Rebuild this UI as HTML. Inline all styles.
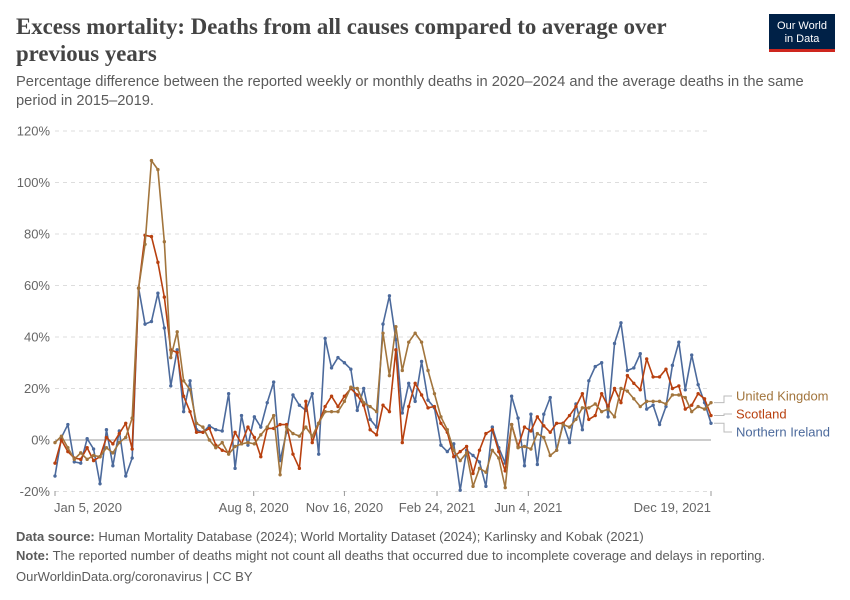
<!DOCTYPE html>
<html><head><meta charset="utf-8"><style>
body{margin:0;background:#fff;font-family:"Liberation Sans",sans-serif}
#wrap{position:relative;width:850px;height:600px;overflow:hidden}
.t{position:absolute;white-space:nowrap}
</style></head><body>
<div id="wrap">
<div class="t" style="left:16px;top:13px;font:bold 22.8px 'Liberation Serif',serif;color:#444;line-height:27px">Excess mortality: Deaths from all causes compared to average over<br>previous years</div>
<div class="t" style="left:16px;top:73px;font-size:14.7px;color:#5b5b5b;line-height:19px">Percentage difference between the reported weekly or monthly deaths in 2020–2024 and the average deaths in the same<br>period in 2015–2019.</div>
<div style="position:absolute;left:769px;top:14px;width:66px;height:38px;background:#002147;color:#fff;font-size:11px;text-align:center;line-height:13px;box-sizing:border-box;padding-top:6px;border-bottom:3px solid #ce261e">Our World<br>in Data</div>
<svg id="chart" width="850" height="600" style="position:absolute;left:0;top:0"></svg>
<div class="t" style="left:16px;top:529px;font-size:13px;color:#5b5b5b"><b>Data source:</b> Human Mortality Database (2024); World Mortality Dataset (2024); Karlinsky and Kobak (2021)</div>
<div class="t" style="left:16px;top:548px;font-size:13px;color:#5b5b5b"><b>Note:</b> The reported number of deaths might not count all deaths that occurred due to incomplete coverage and delays in reporting.</div>
<div class="t" style="left:16px;top:569px;font-size:13px;color:#5b5b5b">OurWorldinData.org/coronavirus | CC BY</div>
</div>
<script>
const yTicks=[-20,0,20,40,60,80,100,120];
const xTickLabels=["Jan 5, 2020","Aug 8, 2020","Nov 16, 2020","Feb 24, 2021","Jun 4, 2021","Dec 19, 2021"];
const xTickWeeks=[0,30.9,45,59.4,73.6,102];
const seriesNames=["United Kingdom","Scotland","Northern Ireland"];
const ukValues=[-1,1.5,-3,-7.5,-5,-7.5,-6,-6.5,-3,-5,-1,1,8.5,59,76,108.5,105,77,32,42,23,19.5,6.5,5,0,-3,-1,-5.5,-2.5,-1.5,-1,-1.5,2,5,9.5,-13.5,5,2.5,1.5,5,1.5,6.5,11,11,11,15,20.5,20,14.5,13,11,41.5,25,44,27,38,41.5,38,27,18,9,4,-4,-8,-5,-18,-11,-12.5,-4,-7,-18.5,6,-3,-2.5,-3.5,2.5,1,-6,-4,6,5,8,12.5,12.5,14,11,12,9,20,19,16,13,15,15,15,14,17.5,17.5,16.5,11,13,12,14.5];
const scotlandValues=[-9,0,-4.5,-7,-7.5,-3,-8,-6.5,1,-1.5,2.5,6.5,-3.5,59,79.5,79,69,55.5,35,34,17,11,3,3,4.5,-2,-4,-5,3,-1.5,5,1,-6.5,4.5,4.5,6,6,-5.5,-11,15,-1,6.5,13,17,13,17,20,17.5,13.5,4,2,13.5,11,35,-1,13,22,17.5,12.5,13,6.5,3,-6.5,-4.5,-2.5,-13,-4,2.5,4,-4.5,-12,6,-2.5,5,3.5,9,5.5,3,6.5,6.5,9.5,13,18,8,9.5,18,13,20,14.5,25,22,19.5,31.5,24.5,24.5,27.5,20,21,12,13.5,18,16,9.5];
const niValues=[-14,1,6,-8.5,-9,0.5,-3.5,-17,4,-10,3.5,-14,-7,59,45,46,57,43.5,21,35,11,23,4,3,5.5,4,3.5,18,-11,9.5,-2,9,5,14.5,22.5,-8,3,17.5,13.5,11.5,18,-5.5,39.5,28,32,30,27.5,11.5,20,8,5,45,56,39,10.5,22,15,30.5,15.5,12.5,-2,-4.5,-1.5,-19.5,-4,-6,-8.5,-18,5,-3,-9,17,8.5,-10,10,-9.5,10,16.5,-4,6.5,-1,14,4,23,28.5,30,9,37.5,45.5,27,28,33.5,12,13.5,6,13,29,38,19.5,33,21.5,14.5,6.5];
const colors=["#a2753d","#b8400f","#4c6a9c"];
const X0=55,X1=711,Y0=440,PPU=2.575;
const xs=i=>X0+(X1-X0)*i/102;
const ys=v=>Y0-v*PPU;
const svg=document.getElementById('chart');
const NS="http://www.w3.org/2000/svg";
function mk(tag,attrs){const e=document.createElementNS(NS,tag);for(const k in attrs)e.setAttribute(k,attrs[k]);svg.appendChild(e);return e;}
yTicks.forEach(v=>{
 const l=mk('line',{x1:X0,x2:X1,y1:ys(v),y2:ys(v),stroke:v===0?'#9a9a9a':'#ddd','stroke-dasharray':v===0?'':'4,4','stroke-width':1});
 
 
 const t=mk('text',{x:50,y:ys(v)+4.5,'text-anchor':'end','font-size':13,fill:'#666','font-family':'Liberation Sans,sans-serif'});
 t.textContent=v+'%';
 
 
});
xTickLabels.forEach((lab,k)=>{
 const x=xs(xTickWeeks[k]);
 const tk=mk('line',{x1:x,x2:x,y1:491,y2:496,stroke:'#999'});
 
 
 const anchor=k===0?'start':(k===xTickLabels.length-1?'end':'middle');
 const t=mk('text',{x:k===0?x-1:x,y:512,'text-anchor':anchor,'font-size':13,fill:'#666','font-family':'Liberation Sans,sans-serif'});
 t.textContent=lab;
 
 
});
const all=[ukValues,scotlandValues,niValues];
[2,1,0].forEach(s=>{
 const vals=all[s];
 const p=mk('polyline',{points:vals.map((v,i)=>xs(i)+','+ys(v)).join(' '),fill:'none',stroke:colors[s],'stroke-width':1.6,'stroke-linejoin':'round'});
 
 
 vals.forEach((v,i)=>{
  const c=mk('circle',{cx:xs(i),cy:ys(v),r:1.7,fill:colors[s]});
  
  
 });
});
const labelY=[396,414,432];
[0,1,2].forEach(s=>{
 const vals=all[s];const ey=ys(vals[vals.length-1]);
 const ln=mk('polyline',{points:`${X1+3},${ey} ${X1+13},${ey} ${X1+13},${labelY[s]} ${X1+21},${labelY[s]}`,fill:'none',stroke:'#bbb','stroke-width':1});
 
 
 const t=mk('text',{x:736,y:labelY[s]+4.5,'font-size':13,fill:colors[s],'font-family':'Liberation Sans,sans-serif'});
 t.textContent=seriesNames[s];
 
 
});
</script>
</body></html>
